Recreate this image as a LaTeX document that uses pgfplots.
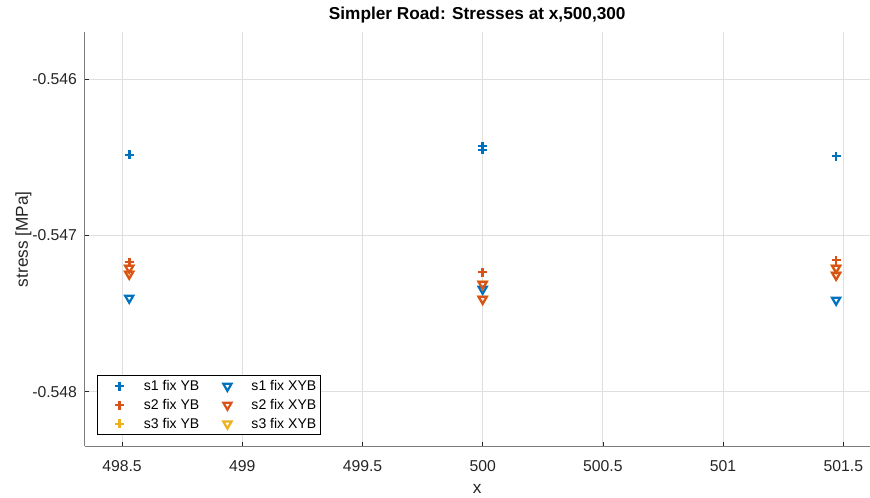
\documentclass[border=0pt]{standalone}
\usepackage{fontspec}
\setmainfont{Liberation Sans}
\usepackage{pgfplots}
\pgfplotsset{compat=1.18}

\definecolor{mblue}{rgb}{0,0.447,0.741}
\definecolor{morange}{rgb}{0.851,0.325,0.098}
\definecolor{myellow}{rgb}{0.929,0.694,0.125}
\definecolor{axgray}{rgb}{0.15,0.15,0.15}
\definecolor{gridgray}{rgb}{0.875,0.875,0.875}

\pgfplotstableread{
x y
498.53 -0.546486
500.00 -0.546429
500.00 -0.546454
501.47 -0.546493
}\sOneYB
\pgfplotstableread{
x y
498.53 -0.547171
500.00 -0.547235
501.47 -0.547158
}\sTwoYB
\pgfplotstableread{
x y
498.53 -0.547401
500.00 -0.547344
501.47 -0.547414
}\sOneXYB
\pgfplotstableread{
x y
498.53 -0.547209
498.53 -0.547247
500.00 -0.547312
500.00 -0.547408
501.47 -0.547209
501.47 -0.547254
}\sTwoXYB
% s3 coincides with s2
\pgfplotstableread{
x y
498.53 -0.547171
500.00 -0.547235
501.47 -0.547158
}\sThreeYB
\pgfplotstableread{
x y
498.53 -0.547209
498.53 -0.547247
500.00 -0.547312
500.00 -0.547408
501.47 -0.547209
501.47 -0.547254
}\sThreeXYB

\pgfplotsset{
  yb/.style={only marks, mark=+, mark size=4.5bp, line width=2.6bp},
  xyb/.style={only marks, mark=triangle, mark options={rotate=180}, mark size=4.7bp, line width=2.2bp},
}

\begin{document}
\begin{tikzpicture}[x=1bp,y=1bp]
\useasboundingbox (0,0) rectangle (870,498);
\begin{axis}[
  at={(84.5bp,51.5bp)}, anchor=south west,
  scale only axis, width=785.5bp, height=414.5bp,
  xmin=498.344, xmax=501.611,
  ymin=-0.54835, ymax=-0.5457,
  axis x line*=bottom, axis y line*=left,
  axis line style={-, draw=axgray!60, line width=0.8bp},
  every outer x axis line/.append style={-},
  every outer y axis line/.append style={-},
  xtick={498.5,499,499.5,500,500.5,501,501.5},
  xticklabels={498.5,499,499.5,500,500.5,501,501.5},
  ytick={-0.548,-0.547,-0.546},
  yticklabels={-0.548,-0.547,-0.546},
  tick align=inside,
  major tick length=5bp,
  tick style={draw=axgray, line width=0.7bp},
  grid=major,
  major grid style={draw=gridgray, line width=0.8bp},
  ticklabel style={font=\fontsize{15.8}{18}\selectfont, text=axgray},
  xticklabel style={yshift=-10bp},
  yticklabel style={xshift=-4bp},
  label style={font=\fontsize{17.3}{20}\selectfont, text=axgray},
  xlabel={x},
  xlabel style={yshift=-6bp},
  ylabel={stress [MPa]},
  ylabel style={yshift=-6bp},
  title={Simpler Road: Stresses at x,500,300},
  title style={font=\bfseries\fontsize{17.3}{20}\selectfont, text=black, yshift=-1bp},
  legend columns=2,
  legend cell align=left,
  legend style={
    at={(0.0159,0.0277)}, anchor=south west,
    draw=black, line width=0.6bp, fill=white,
    font=\fontsize{14.1}{16}\selectfont,
    inner xsep=2bp, inner ysep=3bp,
    row sep=3.2bp,
    /tikz/every even column/.append style={column sep=6bp},
  },
  legend image code/.code={
    \path (0bp,0bp) (40bp,0bp);
    \draw[#1] plot coordinates {(19bp,0bp)};
  },
  clip=false,
]
% legend entries
\addlegendimage{yb, color=mblue}
\addlegendentry{s1 fix YB}
\addlegendimage{xyb, color=mblue}
\addlegendentry{s1 fix XYB}
\addlegendimage{yb, color=morange}
\addlegendentry{s2 fix YB}
\addlegendimage{xyb, color=morange}
\addlegendentry{s2 fix XYB}
\addlegendimage{yb, color=myellow}
\addlegendentry{s3 fix YB}
\addlegendimage{xyb, color=myellow}
\addlegendentry{s3 fix XYB}
% data
\addplot[forget plot, yb, color=myellow] table {\sThreeYB};
\addplot[forget plot, xyb, color=myellow] table {\sThreeXYB};
\addplot[forget plot, yb, color=mblue] table {\sOneYB};
\addplot[forget plot, yb, color=morange] table {\sTwoYB};
\addplot[forget plot, xyb, color=mblue] table {\sOneXYB};
\addplot[forget plot, xyb, color=morange] table {\sTwoXYB};
\end{axis}
\end{tikzpicture}
\end{document}
